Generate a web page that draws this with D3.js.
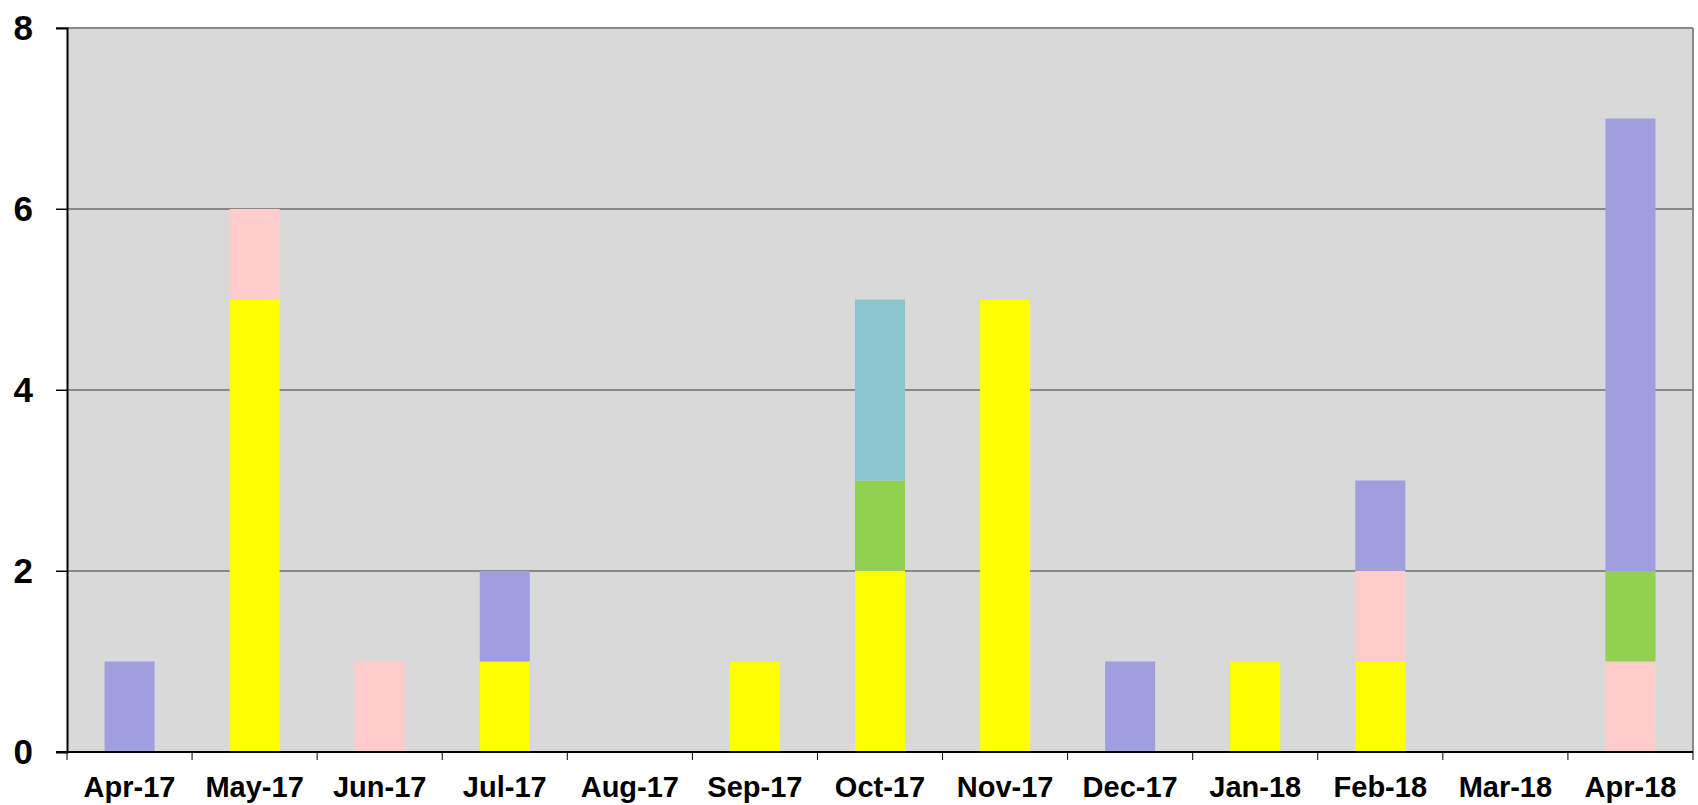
<!DOCTYPE html>
<html>
<head>
<meta charset="utf-8">
<script src="https://cdn.jsdelivr.net/npm/d3@7"></script>
<style>
  body { margin: 0; background: #fff; }
  svg text { font-family: "Liberation Sans", Arial, sans-serif; font-weight: bold; fill: #000; }
</style>
</head>
<body>
<div id="chart"></div>
<script>
// data ====================

var months = ["Apr-17", "May-17", "Jun-17", "Jul-17", "Aug-17", "Sep-17", "Oct-17",
  "Nov-17", "Dec-17", "Jan-18", "Feb-18", "Mar-18", "Apr-18"];

// stack order bottom -> top
var seriesNames = ["yellow", "pink", "green", "purple", "teal"];
var yellow = [0, 5, 0, 1, 0, 1, 2, 5, 0, 1, 1, 0, 0];
var pink   = [0, 1, 1, 0, 0, 0, 0, 0, 0, 0, 1, 0, 1];
var green  = [0, 0, 0, 0, 0, 0, 1, 0, 0, 0, 0, 0, 1];
var purple = [1, 0, 0, 1, 0, 0, 0, 0, 1, 0, 1, 0, 5];
var teal   = [0, 0, 0, 0, 0, 0, 2, 0, 0, 0, 0, 0, 0];

var yTicks = [0, 2, 4, 6, 8];

var colors = {
  yellow: "#ffff00",
  pink: "#ffcccc",
  green: "#92d050",
  purple: "#9f9fdf",
  teal: "#8bc5cc"
};

// build rows for d3.stack
var values = { yellow: yellow, pink: pink, green: green, purple: purple, teal: teal };
var rows = months.map(function(m, i) {
  var r = { month: m };
  seriesNames.forEach(function(s) { r[s] = values[s][i]; });
  return r;
});

// chart ====================

var width = 1698, height = 805;
var margin = { top: 28, right: 5, bottom: 53, left: 67 };

var svg = d3.select('#chart')
  .append('svg')
  .attr('width', width)
  .attr('height', height);

var x = d3.scaleBand()
  .domain(months)
  .range([margin.left, width - margin.right])
  .paddingInner(0.6)
  .paddingOuter(0.3);

var y = d3.scaleLinear()
  .domain([0, 8])
  .range([height - margin.bottom, margin.top]);

// plot background
svg.append('rect')
  .attr('x', margin.left)
  .attr('y', margin.top)
  .attr('width', width - margin.right - margin.left)
  .attr('height', y(0) - margin.top)
  .attr('fill', '#d9d9d9');

// gridlines (with the little tick stubs on the left)
svg.append('g')
  .selectAll('line')
  .data(yTicks.filter(function(d) { return d > 0; }))
  .enter().append('line')
  .attr('x1', margin.left - 11)
  .attr('x2', width - margin.right)
  .attr('y1', function(d) { return y(d); })
  .attr('y2', function(d) { return y(d); })
  .attr('stroke', '#888')
  .attr('stroke-width', 2);

// right border
svg.append('line')
  .attr('x1', width - margin.right)
  .attr('x2', width - margin.right)
  .attr('y1', margin.top)
  .attr('y2', y(0))
  .attr('stroke', '#888')
  .attr('stroke-width', 2);

// bars
var stacked = d3.stack().keys(seriesNames)(rows);

svg.append('g')
  .selectAll('g')
  .data(stacked)
  .enter().append('g')
  .attr('fill', function(d) { return colors[d.key]; })
  .selectAll('rect')
  .data(function(d) { return d.filter(function(p) { return p[1] > p[0]; }); })
  .enter().append('rect')
  .attr('x', function(d) { return x(d.data.month); })
  .attr('width', x.bandwidth())
  .attr('y', function(d) { return y(d[1]); })
  .attr('height', function(d) { return y(d[0]) - y(d[1]); });

// y axis
var yAxis = svg.append('g')
  .attr('transform', 'translate(' + margin.left + ',0)')
  .call(d3.axisLeft(y).tickValues(yTicks).tickSize(11).tickPadding(23).tickFormat(d3.format('d')));
yAxis.select('.domain').attr('stroke', '#000').attr('stroke-width', 2);
yAxis.selectAll('.tick line').attr('stroke', '#000').attr('stroke-width', 1);
yAxis.selectAll('.tick text').style('font-size', '35px');

// x axis: ticks at category boundaries
var step = x.step();
var bounds = months.map(function(m) { return x(m) - x.bandwidth() * 0.75; });
bounds.push(width - margin.right);

var xAxis = svg.append('g')
  .attr('transform', 'translate(0,' + y(0) + ')');

xAxis.append('line')
  .attr('x1', margin.left - 11)
  .attr('x2', width - margin.right)
  .attr('stroke', '#000')
  .attr('stroke-width', 2);

xAxis.selectAll('line.tk')
  .data(bounds)
  .enter().append('line')
  .attr('class', 'tk')
  .attr('x1', function(d) { return d; })
  .attr('x2', function(d) { return d; })
  .attr('y1', 0)
  .attr('y2', 8)
  .attr('stroke', '#000')
  .attr('stroke-width', 1);

xAxis.selectAll('text')
  .data(months)
  .enter().append('text')
  .attr('x', function(d) { return x(d) + x.bandwidth() / 2; })
  .attr('y', 45)
  .attr('text-anchor', 'middle')
  .style('font-size', '29px')
  .text(function(d) { return d; });
</script>
</body>
</html>
